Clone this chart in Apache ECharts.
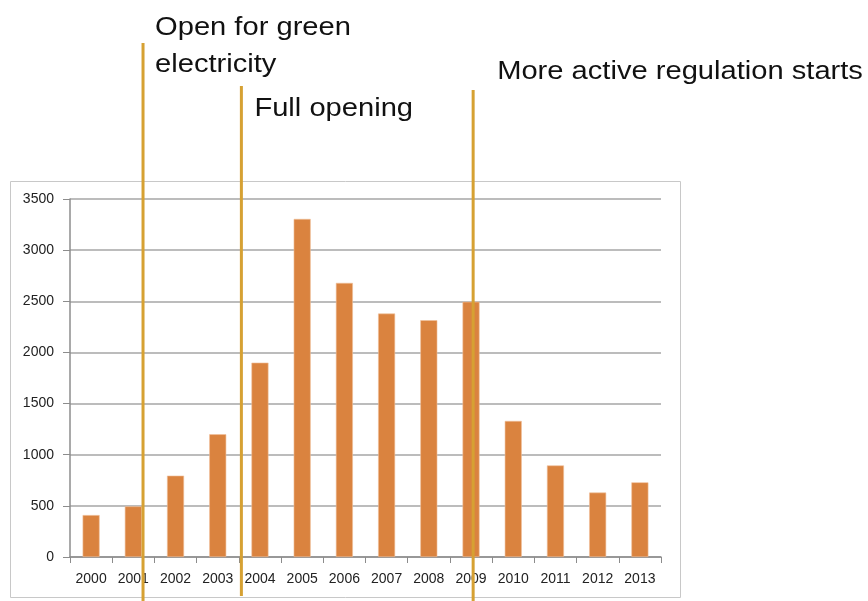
<!DOCTYPE html>
<html>
<head>
<meta charset="utf-8">
<script src="https://cdn.jsdelivr.net/npm/echarts@6/dist/echarts.min.js"></script>
<style>
    html, body { margin: 0; padding: 0; background: #fff; }
    #chart { width: 868px; height: 601px; }
</style>
</head>
<body>
<div id="chart"></div>
<script>
const years = ['2000', '2001', '2002', '2003', '2004', '2005', '2006', '2007', '2008', '2009', '2010', '2011', '2012', '2013']
const values = [410, 495, 795, 1200, 1900, 3305, 2680, 2380, 2315, 2495, 1330, 895, 630, 730]
const yTicks = [0, 500, 1000, 1500, 2000, 2500, 3000, 3500]

// annotation markers, position in category units (0 = left edge of 2000)
const markerPos = [1.73, 4.06, 9.55]
const markerLabels = [['Open for green', 'electricity'], ['Full opening'], ['More active regulation starts']]

const chart = echarts.init(document.getElementById('chart'))

const font = 'Liberation Sans, Arial, sans-serif'

chart.setOption({
    animation: false,
    backgroundColor: '#fff',
    grid: { left: 70, right: 207, top: 199, bottom: 44 },
    xAxis: [
        {
            type: 'category',
            data: years,
            axisLine: { lineStyle: { color: '#8c8c8c', width: 1.5 } },
            axisTick: { show: true, length: 6, lineStyle: { color: '#8c8c8c' } },
            axisLabel: { color: '#222', fontSize: 14, fontFamily: font, margin: 15 }
        },
        { type: 'value', min: 0, max: years.length, show: false }
    ],
    yAxis: {
        type: 'value',
        min: yTicks[0],
        max: yTicks[yTicks.length - 1],
        interval: 500,
        axisLine: { show: true, lineStyle: { color: '#8c8c8c', width: 1.5 } },
        axisTick: { show: true, inside: false, length: 7, lineStyle: { color: '#8c8c8c' } },
        axisLabel: { color: '#222', fontSize: 14, fontFamily: font, margin: 16, formatter: v => String(v) },
        splitLine: { lineStyle: { color: '#a6a6a6', width: 1.5 } }
    },
    series: [{
        type: 'bar',
        data: values,
        barWidth: 17,
        itemStyle: { color: '#da833f', borderColor: '#f0c09a', borderWidth: 0.6 }
    }]
})

const drawAnnotations = () => {
    const lineTops = [43, 86, 90]
    const lineBottoms = [601, 596, 601]
    const labelDx = [12, 13, 24]
    const labelY = [9, 90, 53]
    const elements = [{
        type: 'rect',
        shape: { x: 10.5, y: 181.5, width: 670, height: 416 },
        style: { fill: 'none', stroke: '#c8c8c8', lineWidth: 1 },
        z: -1
    }]
    markerPos.forEach((pos, i) => {
        const x = chart.convertToPixel({ xAxisIndex: 1 }, pos)
        elements.push({
            type: 'line',
            shape: { x1: x, y1: lineTops[i], x2: x, y2: lineBottoms[i] },
            style: { stroke: '#d6a133', lineWidth: 3 },
            z: 100
        })
        elements.push({
            type: 'text',
            x: x + labelDx[i],
            y: labelY[i],
            scaleX: 1.12,
            style: {
                text: markerLabels[i].join('\n'),
                fontSize: 26,
                lineHeight: 37,
                fontFamily: font,
                fill: '#111'
            },
            z: 100
        })
    })
    chart.setOption({ graphic: elements })
}

drawAnnotations()
</script>
</body>
</html>
